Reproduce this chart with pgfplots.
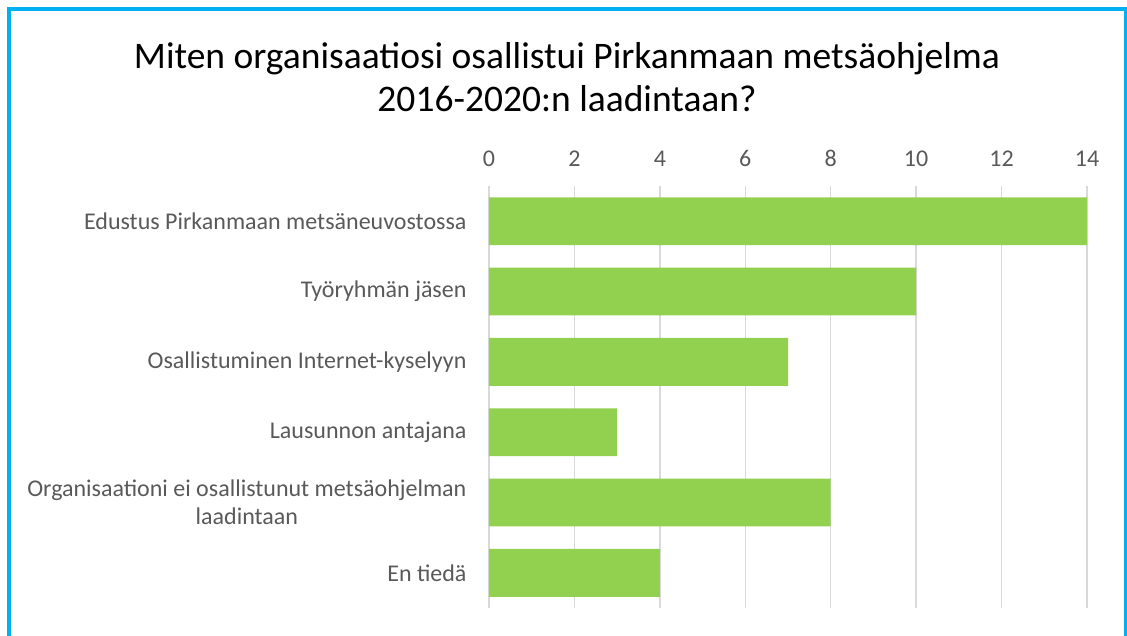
\documentclass[border=0pt]{standalone}
\usepackage{fontspec}
\setmainfont{Carlito}
\usepackage{pgfplots}
\pgfplotsset{compat=1.18}
\definecolor{bargreen}{HTML}{92D050}
\definecolor{frameblue}{HTML}{00B0F0}
\definecolor{ticktext}{HTML}{595959}
\definecolor{gridgray}{HTML}{D9D9D9}
\begin{document}
\begin{tikzpicture}
\useasboundingbox (0,0) rectangle (1127pt,-636pt);
\draw[frameblue, line width=3.5pt] (9pt,-640pt) -- (9pt,-9pt) -- (1125.5pt,-9pt) -- (1125.5pt,-640pt);
\node[align=center, font=\fontsize{37.5}{43}\selectfont] at (567pt,-77pt)
  {Miten organisaatiosi osallistui Pirkanmaan metsäohjelma\\2016-2020:n laadintaan?};
\begin{axis}[
  at={(489pt,-608pt)}, anchor=south west,
  scale only axis, width=598pt, height=422pt,
  xbar, bar width=0.68,
  xmin=0, xmax=14, xtick distance=2,
  ymin=-0.5, ymax=5.5, y dir=reverse,
  ytick={0,...,5},
  yticklabels={Edustus Pirkanmaan metsäneuvostossa, Työryhmän jäsen,
    Osallistuminen Internet-kyselyyn, Lausunnon antajana,
    {Organisaationi ei osallistunut metsäohjelman\\laadintaan}, En tiedä},
  axis x line*=top, axis line style={draw=none},
  xticklabel pos=upper,
  major tick length=0pt,
  xmajorgrids, grid style={gridgray, line width=1.3pt},
  ymajorgrids=false,
  tick label style={font=\fontsize{24}{28}\selectfont, text=ticktext},
  yticklabel style={align=center, xshift=-19pt},
  xticklabel style={yshift=16pt},
  /pgf/number format/assume math mode=true,
]
\addplot[draw=none, fill=bargreen] coordinates {
  (14,0) (10,1) (7,2) (3,3) (8,4) (4,5)
};
\end{axis}
\end{tikzpicture}
\end{document}
